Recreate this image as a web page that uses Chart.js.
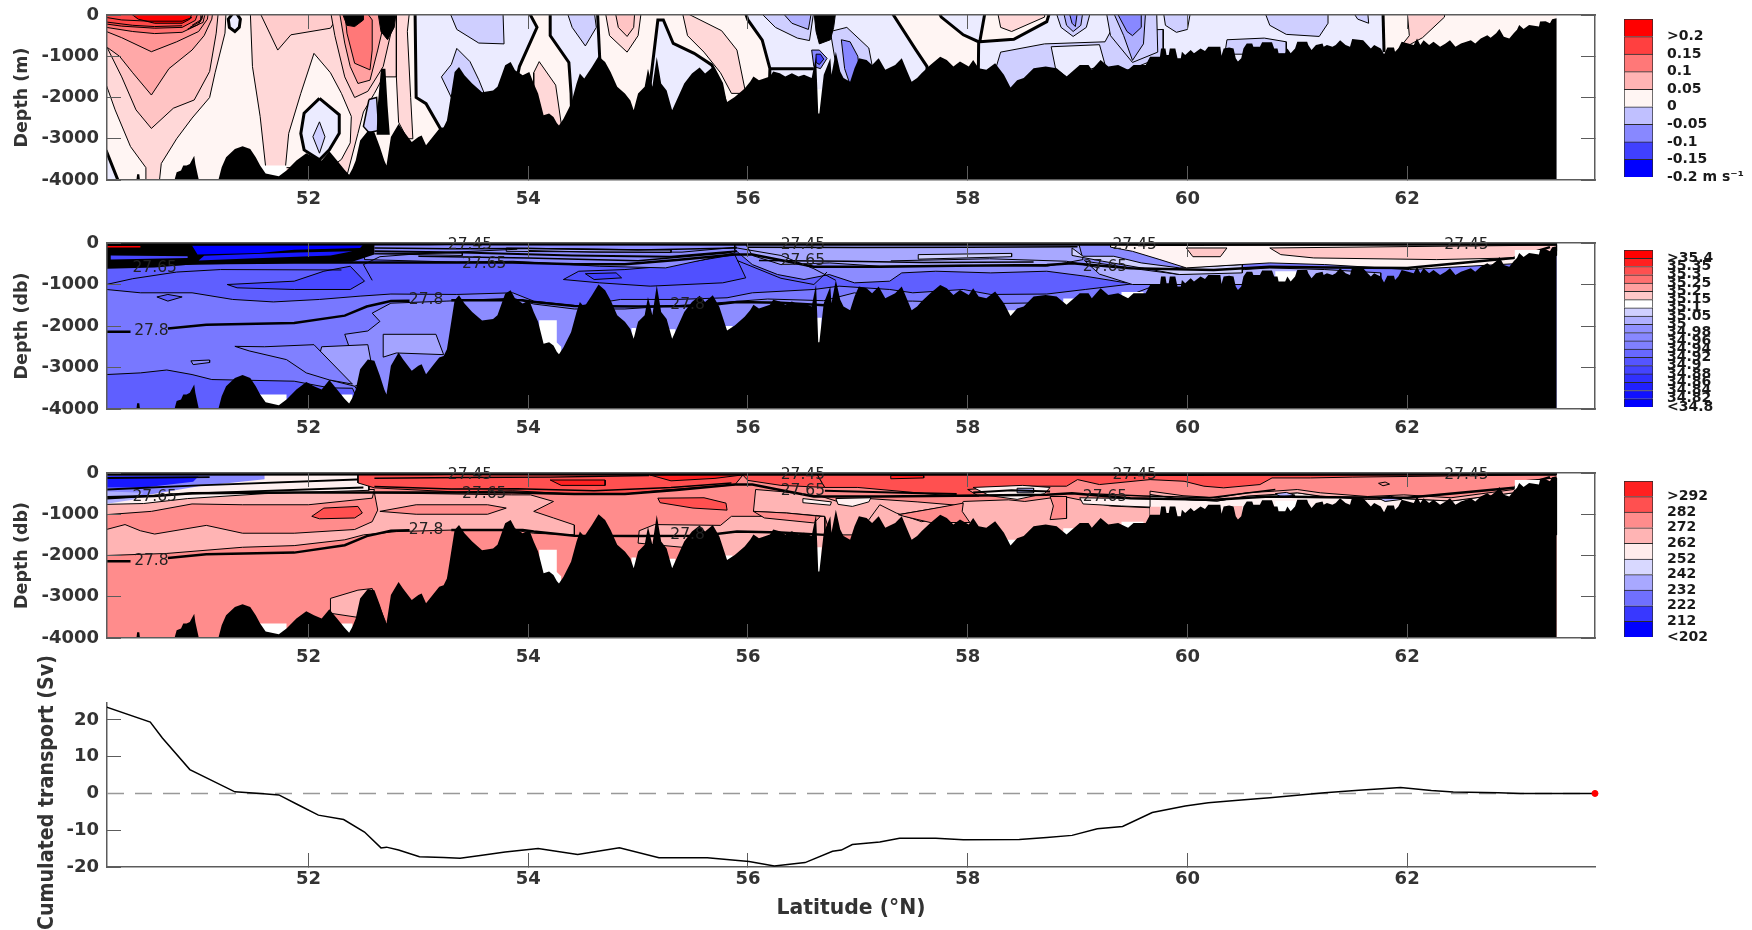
<!DOCTYPE html>
<html>
<head>
<meta charset="utf-8">
<title>Section</title>
<script src="https://cdn.jsdelivr.net/npm/chart.js@4"></script>
<style>
body { margin: 0; background: #fff; }
canvas { position: absolute; }
</style>
</head>
<body>
<canvas id="panelVel" style="left:0px;top:0px" width="1610" height="215"></canvas>
<canvas id="panelSal" style="left:0px;top:225px" width="1610" height="215"></canvas>
<canvas id="panelDen" style="left:0px;top:455px" width="1610" height="215"></canvas>
<canvas id="panelTrans" style="left:0px;top:655px" width="1610" height="275"></canvas>
<canvas id="barVel" style="left:1600px;top:5px" width="152" height="190"></canvas>
<canvas id="barSal" style="left:1600px;top:235px" width="152" height="190"></canvas>
<canvas id="barDen" style="left:1600px;top:465px" width="152" height="190"></canvas>
<script>
const xTicks = [52, 54, 56, 58, 60, 62];
const depthTicks = [0, -1000, -2000, -3000, -4000];
const transTicks = [-20, -10, 0, 10, 20];

// colour bars, top to bottom
const velColors = ['#ff0000', '#ff4040', '#ff7878', '#ffb4b4', '#fff5f3', '#c0c0ff', '#8888ff', '#4040ff', '#0000ff'];
const velLabels = ['>0.2', '0.15', '0.1', '0.05', '0', '-0.05', '-0.1', '-0.15', '-0.2 m s\u207B\u00B9'];
const salColors = ['#ff0000', '#ff2020', '#ff5050', '#ff7070', '#ffa0a0', '#ffc8c8', '#ffffff', '#d0d0ff', '#b0b0ff', '#9090ff', '#8888ff', '#8080ff', '#6868ff', '#5555ff', '#4444ff', '#3030ff', '#2020ff', '#1010ff', '#0000ff'];
const salLabels = ['>35.4', '35.35', '35.3', '35.25', '35.2', '35.15', '35.1', '35.05', '35', '34.98', '34.96', '34.94', '34.92', '34.9', '34.88', '34.86', '34.84', '34.82', '<34.8'];
const denColors = ['#ff2020', '#ff5050', '#ff8c8c', '#ffb4b4', '#ffecec', '#d8d8ff', '#a8a8ff', '#7070ff', '#3838ff', '#0000ff'];
const denLabels = ['>292', '282', '272', '262', '252', '242', '232', '222', '212', '<202'];

// cumulated transport (lat, Sv)
const transLat = [50.16, 50.56, 50.67, 50.92, 51.33, 51.59, 51.73, 51.9, 52.09, 52.32, 52.51, 52.66, 52.71, 52.82, 53.01, 53.23, 53.38, 53.58, 53.79, 54.09, 54.45, 54.83, 55.19, 55.63, 56.01, 56.24, 56.52, 56.77, 56.85, 56.95, 57.2, 57.38, 57.71, 57.96, 58.47, 58.72, 58.95, 59.18, 59.41, 59.68, 59.98, 60.19, 60.49, 60.75, 61.25, 61.56, 61.94, 62.22, 62.42, 62.83, 63.03, 63.71];
const transSv = [23.5, 19.4, 15.1, 6.5, 0.45, -0.1, -0.4, -3, -5.9, -7.1, -10.5, -14.8, -14.6, -15.4, -17.2, -17.4, -17.6, -16.8, -15.9, -15, -16.6, -14.8, -17.5, -17.5, -18.5, -19.7, -18.8, -15.7, -15.4, -13.9, -13.2, -12.2, -12.2, -12.6, -12.5, -12, -11.4, -9.6, -9, -5.2, -3.4, -2.5, -1.8, -1.2, 0.2, 0.9, 1.6, 0.8, 0.4, 0.2, 0, 0];

// sea floor shared by the three sections (lat, depth)
const bathy = [[50, -4100], [50.43, -4100], [50.44, -3860], [50.46, -3860], [50.47, -4100], [50.77, -4100], [50.8, -3810], [50.84, -3770], [50.86, -3650], [50.89, -3650], [50.92, -3610], [50.96, -3410], [50.97, -3610], [51.01, -4100], [51.17, -4100], [51.21, -3690], [51.25, -3450], [51.33, -3250], [51.4, -3180], [51.47, -3250], [51.52, -3450], [51.56, -3650], [51.61, -3840], [51.73, -3910], [51.8, -3770], [51.89, -3530], [51.98, -3350], [52.05, -3450], [52.12, -3530], [52.19, -3300], [52.26, -3530], [52.33, -3760], [52.37, -3870], [52.4, -3730], [52.43, -3530], [52.47, -3040], [52.54, -2810], [52.6, -2840], [52.65, -3200], [52.69, -3530], [52.71, -3650], [52.75, -2960], [52.82, -2640], [52.86, -2800], [52.94, -3080], [53, -2960], [53.03, -2920], [53.07, -3160], [53.13, -2960], [53.19, -2760], [53.23, -2720], [53.26, -2560], [53.28, -2230], [53.33, -1380], [53.37, -1260], [53.42, -1460], [53.49, -1660], [53.58, -1870], [53.68, -1830], [53.72, -1740], [53.79, -1220], [53.84, -1140], [53.88, -1340], [53.95, -1460], [54.01, -1380], [54.05, -1660], [54.09, -1900], [54.14, -2430], [54.19, -2390], [54.23, -2470], [54.26, -2620], [54.28, -2680], [54.32, -2520], [54.39, -2150], [54.44, -1660], [54.47, -1420], [54.51, -1540], [54.58, -1260], [54.64, -1000], [54.7, -1140], [54.75, -1380], [54.81, -1740], [54.88, -1900], [54.93, -2070], [54.96, -2310], [55, -1900], [55.06, -1740], [55.09, -1300], [55.13, -1740], [55.17, -1020], [55.21, -1660], [55.26, -1830], [55.31, -2310], [55.35, -2070], [55.42, -1660], [55.49, -1420], [55.56, -1270], [55.61, -1420], [55.68, -1260], [55.74, -1540], [55.81, -2110], [55.88, -1990], [55.97, -1780], [56.02, -1620], [56.05, -1490], [56.1, -1580], [56.2, -1490], [56.23, -1370], [56.29, -1410], [56.34, -1490], [56.4, -1410], [56.46, -1490], [56.51, -1450], [56.58, -1530], [56.62, -1000], [56.64, -2390], [56.65, -2390], [56.69, -1450], [56.75, -1050], [56.76, -1450], [56.8, -890], [56.84, -1370], [56.87, -1530], [56.93, -1620], [56.97, -1290], [57.01, -1050], [57.08, -1090], [57.13, -1210], [57.19, -1050], [57.25, -1330], [57.34, -1210], [57.4, -1050], [57.45, -1370], [57.49, -1620], [57.54, -1530], [57.58, -1410], [57.66, -1210], [57.75, -1010], [57.81, -1090], [57.87, -1250], [57.93, -1130], [58.01, -1250], [58.05, -1090], [58.1, -1290], [58.17, -1330], [58.25, -1170], [58.33, -1450], [58.39, -1760], [58.45, -1580], [58.51, -1530], [58.6, -1290], [58.71, -1250], [58.81, -1290], [58.9, -1490], [59.02, -1210], [59.1, -1210], [59.13, -1330], [59.21, -1090], [59.28, -1250], [59.37, -1210], [59.46, -1330], [59.51, -1210], [59.62, -1210], [59.66, -1010], [59.75, -1010], [59.76, -810], [59.8, -810], [59.81, -970], [59.83, -970], [59.84, -810], [59.89, -810], [59.91, -1050], [59.94, -1050], [59.95, -890], [59.98, -970], [60.03, -850], [60.06, -930], [60.12, -810], [60.16, -870], [60.19, -770], [60.3, -770], [60.31, -990], [60.33, -810], [60.38, -790], [60.42, -810], [60.44, -1050], [60.46, -1130], [60.49, -1050], [60.51, -810], [60.54, -690], [60.59, -690], [60.6, -770], [60.66, -770], [60.68, -660], [60.77, -660], [60.79, -810], [60.82, -810], [60.83, -930], [60.89, -930], [60.91, -810], [60.94, -930], [60.98, -810], [61, -650], [61.09, -650], [61.1, -730], [61.13, -850], [61.17, -730], [61.23, -690], [61.24, -770], [61.27, -730], [61.32, -770], [61.35, -730], [61.39, -610], [61.44, -730], [61.48, -770], [61.5, -580], [61.6, -610], [61.64, -730], [61.67, -810], [61.7, -730], [61.73, -770], [61.76, -810], [61.79, -950], [61.82, -790], [61.88, -790], [61.89, -890], [61.92, -810], [61.95, -650], [62.06, -730], [62.09, -570], [62.12, -730], [62.15, -610], [62.2, -730], [62.24, -650], [62.3, -770], [62.35, -690], [62.39, -610], [62.44, -770], [62.49, -690], [62.58, -610], [62.62, -690], [62.67, -570], [62.73, -490], [62.76, -550], [62.81, -440], [62.84, -340], [62.88, -530], [62.93, -570], [62.97, -440], [63, -360], [63.02, -240], [63.06, -340], [63.11, -240], [63.2, -280], [63.21, -160], [63.26, -150], [63.3, -200], [63.32, -100], [63.36, -80], [63.36, -4100]];

// places where the section has no data
const holeDeep = [[51.47, -3650], [51.8, -3650], [51.8, -4100], [51.47, -4100]];
const holeSlit = [[56.63, -1800], [56.67, -1800], [56.67, -2450], [56.63, -2450]];
const holeBox = [[54.1, -1860], [54.26, -1860], [54.26, -2400], [54.3, -2500], [54.3, -2750], [54.1, -2750]];
const holeA = [[52.3, -3650], [52.4, -3650], [52.4, -3950], [52.3, -3950]];
const holeB = [[54.94, -2050], [54.98, -2050], [54.98, -2350], [54.94, -2350]];
const holeC = [[55.28, -2080], [55.34, -2080], [55.34, -2350], [55.28, -2350]];
const holeD = [[55.78, -2000], [55.86, -2000], [55.86, -2200], [55.78, -2200]];
const holeE = [[58.33, -1620], [58.46, -1620], [58.46, -1800], [58.33, -1800]];
const holeF = [[58.87, -1340], [59, -1340], [59, -1560], [58.87, -1560]];
const holeG = [[59.4, -1180], [59.6, -1180], [59.6, -1350], [59.4, -1350]];
const holeH = [[60.8, -680], [60.99, -680], [60.99, -1000], [60.8, -1000]];
const holeI = [[62.98, -170], [63.25, -170], [63.25, -420], [62.98, -420]];
const holesAll = [holeDeep, holeSlit];
const holesTS = [holeDeep, holeSlit, holeBox, holeA, holeB, holeC, holeD, holeE, holeF, holeG, holeH, holeI];

// density contours drawn on salinity and density sections
const sigma2745 = [[50.16, -30], [53.1, -25], [53.3, -20], [53.7, -25], [56.3, -30], [56.7, -30], [59.3, -30], [59.8, -35], [62.3, -30], [62.8, -30], [63.36, -30]];
const sigma2765 = [[50.16, -590], [50.6, -560], [50.94, -490], [51.87, -470], [52.53, -470], [53.35, -470], [53.86, -470], [54.42, -510], [54.88, -510], [55.35, -410], [55.88, -280], [56.04, -280], [56.27, -400], [56.6, -570], [57.2, -570], [57.9, -550], [58.72, -530], [58.95, -490], [59.48, -610], [60.24, -650], [60.75, -570], [61.3, -590], [62, -600], [62.97, -360], [63.3, -100]];
const sigma278 = [[50.16, -2140], [50.38, -2140], [null, null], [50.72, -2060], [51.07, -1970], [51.87, -1930], [52.33, -1750], [52.53, -1530], [52.75, -1400], [52.92, -1390], [null, null], [53.3, -1380], [53.95, -1380], [54.05, -1420], [54.42, -1520], [55, -1530], [55.58, -1520], [55.9, -1420], [56.3, -1440], [56.7, -1500]];
const labelText = ['27.45', '27.45', '27.45', '27.45', '27.65', '27.65', '27.65', '27.65', '27.8', '27.8', '27.8'];
const labelLat = [53.47, 56.5, 59.52, 62.54, 50.6, 53.6, 56.5, 59.25, 50.57, 53.07, 55.45];
const labelDepth = [-45, -45, -45, -45, -590, -500, -440, -570, -2130, -1370, -1500];

// along-section velocity
const vBase = [[50, 100], [63.36, 100], [63.36, -4100], [50, -4100]];
const vPale = [[50, 100], [52.97, 100], [52.98, -2000], [53.07, -2150], [53.2, -2750], [53.3, -3000], [53.3, -4100], [50.28, -4100], [50.22, -3700], [50.16, -3300], [50, -3200]];
const vEyeTop = [[51.33, 100], [51.38, -100], [51.37, -300], [51.33, -400], [51.28, -300], [51.27, -100]];
const vEye = [[52.1, -2020], [52.28, -2420], [52.28, -2870], [52.19, -3270], [52.1, -3510], [51.96, -3270], [51.93, -2870], [51.96, -2380]];
const vEyeIn = [[52.1, -2590], [52.15, -2950], [52.1, -3350], [52.04, -2950]];
const vPink1 = [[50, 100], [51.25, 100], [51.24, -440], [51.15, -1400], [51.1, -2000], [50.94, -2500], [50.8, -3000], [50.66, -3600], [50.64, -4100], [50.52, -4100], [50.52, -3700], [50.38, -3190], [50.24, -2300], [50.16, -1700], [50, -1500]];
const vPink2 = [[50, -500], [50.16, -750], [50.3, -1500], [50.43, -2300], [50.57, -2750], [50.77, -2260], [50.96, -2060], [51.1, -1370], [51.16, -440], [51.18, 100], [50, 100]];
const vPink3 = [[50, -600], [50.16, -770], [50.28, -1000], [50.4, -1400], [50.57, -1940], [50.73, -1300], [50.94, -850], [51.05, -500], [51.12, -100], [51.13, 100], [50, 100]];
const vPink4 = [[50, -350], [50.16, -400], [50.3, -550], [50.57, -890], [50.8, -650], [51, -400], [51.08, -100], [51.09, 100], [50, 100]];
const vPink5 = [[50, -250], [50.16, -300], [50.4, -400], [50.6, -450], [50.85, -420], [51, -230], [51.05, 100], [50, 100]];
const vPink6 = [[50, -160], [50.3, -270], [50.6, -320], [50.85, -300], [50.97, -130], [51, 100], [50, 100]];
const vRed = [[50.35, 100], [50.45, -100], [50.6, -200], [50.85, -200], [50.92, -100], [50.95, 100]];
const vLine1 = [[50.16, -60], [50.3, -120], [50.55, -150], [50.85, -150], [50.94, -60]];
const vLine2 = [[50.94, -250], [51.03, -100], [51.04, 50]];
const vLine3 = [[50.92, -300], [51.02, -150], [51.02, 50]];
const vLine4 = [[50.9, -340], [51.04, -180], [51.06, 50]];
const vLine5 = [[50.16, -170], [50.4, -250], [50.6, -280], [50.85, -260]];
const vMid = [[51.47, 100], [51.49, -1250], [51.56, -2460], [51.61, -3680], [51.62, -4100], [52.33, -4100], [52.45, -2870], [52.5, -2350], [52.6, -1900], [52.68, -1500], [52.8, -1500], [52.9, 100]];
const vRing = [[52.05, -930], [51.93, -1900], [51.82, -2870], [51.79, -3700], [52.2, -3700], [52.3, -3500], [52.38, -3100], [52.39, -2460], [52.3, -1900], [52.2, -1400]];
const vWedge = [[51.55, 100], [51.72, -850], [51.84, -480], [52.2, -320], [52.3, 100]];
const vMidA = [[52.2, 100], [52.24, -500], [52.33, -1500], [52.42, -2000], [52.54, -1850], [52.68, -1250], [52.75, -440], [52.75, 100]];
const vMidB = [[52.28, 100], [52.33, -680], [52.38, -1250], [52.45, -1660], [52.56, -1580], [52.63, -850], [52.68, -280], [52.68, 100]];
const vMidC = [[52.33, 100], [52.35, -440], [52.42, -1170], [52.56, -1330], [52.58, -850], [52.58, -120], [52.52, 100]];
const vDarkA = [[52.3, 100], [52.35, -250], [52.42, -280], [52.5, -120], [52.5, 100]];
const vDarkB = [[52.63, 100], [52.66, -400], [52.72, -600], [52.78, -300], [52.8, 100]];
const vDarkD = [[52.66, -1300], [52.7, -1300], [52.72, -2200], [52.74, -2900], [52.62, -2900], [52.63, -2200]];
const vColumn = [[52.8, 100], [52.8, -1500], [52.82, -2600], [52.9, -3000], [52.95, -3000], [52.93, -2000], [52.9, -400], [52.92, 100]];
const vBlueW = [[52.55, -2050], [52.62, -2000], [52.64, -2800], [52.55, -2850], [52.5, -2700]];
const vBlueA = [[53.28, 100], [53.35, -350], [53.55, -680], [53.78, -700], [53.77, 100]];
const vBlueB = [[53.35, -810], [53.47, -1130], [53.55, -1570], [53.6, -1900], [53.3, -2000], [53.21, -1500], [53.3, -1200]];
const vPaleB = [[54, 100], [54.08, -300], [53.92, -1250], [53.9, -1500], [54, -3000], [54.4, -3000], [54.39, -1900], [54.37, -1150], [54.2, -500], [54.2, 100]];
const vPinkB = [[54.1, -1130], [54.05, -1400], [54.05, -3000], [54.32, -3000], [54.25, -1700]];
const vBlueC = [[54.35, 100], [54.4, -300], [54.52, -750], [54.62, -300], [54.6, 100]];
const vPaleC = [[54.63, 100], [54.65, -1000], [54.7, -3000], [55.05, -3000], [55.18, -120], [55.23, -120], [55.32, -690], [55.51, -930], [55.67, -1210], [55.76, -1660], [55.86, -3000], [56.18, -3000], [56.2, -1300], [56.13, -610], [56, -120], [55.97, 100]];
const vPinkC = [[54.7, 100], [54.74, -500], [54.9, -900], [55, -500], [55.03, 100]];
const vPinkD = [[54.79, 100], [54.82, -300], [54.9, -520], [54.96, -300], [54.97, 100]];
const vPinkE = [[55.4, 100], [55.76, -380], [55.9, -850], [55.98, -1900], [55.85, -1900], [55.75, -1400], [55.6, -900], [55.45, -500]];
const vBlueD = [[56.1, 100], [56.25, -300], [56.45, -560], [56.56, -620], [56.6, 100]];
const vBlueE = [[56.3, 100], [56.4, -200], [56.55, -350], [56.58, 100]];
const vThickH = [[56.2, -1300], [56.6, -1300]];
const vBlueF = [[56.75, -400], [56.9, -300], [57.1, -800], [57.15, -1500], [56.9, -2000], [56.8, -1200]];
const vBlueG = [[56.85, -600], [56.93, -650], [57, -1000], [57.02, -1500], [56.95, -1850], [56.88, -1300]];
const vDarkC = [[56.6, 100], [56.62, -400], [56.65, -700], [56.75, -600], [56.78, -300], [56.8, 100]];
const vRings = [[56.58, -850], [56.65, -850], [56.72, -1050], [56.66, -1300], [56.6, -1250]];
const vRings2 = [[56.62, -950], [56.66, -950], [56.69, -1070], [56.65, -1200], [56.62, -1150]];
const vPaleD = [[57.3, 100], [57.53, -850], [57.63, -1250], [57.63, -3000], [58.09, -3000], [58.1, -650], [57.96, -480], [57.76, -50], [57.73, 100]];
const vPaleE = [[58.11, -650], [58.42, -590], [58.72, -160], [58.75, 100], [58.16, 100]];
const vPinkF = [[58.27, 100], [58.3, -300], [58.4, -400], [58.7, -50], [58.7, 100]];
const vBlueH = [[58.2, -1800], [58.3, -900], [58.7, -700], [59.25, -650], [59.3, -400], [59.78, -350], [59.78, -1000], [59.5, -1300], [58.5, -2000]];
const vPaleF = [[58.76, -770], [59.2, -720], [59.25, -1200], [58.9, -1500], [58.8, -1300]];
const vVortA = [[58.8, 100], [58.85, -300], [58.96, -520], [59.08, -300], [59.12, 100]];
const vVortB = [[58.87, 100], [58.9, -250], [58.96, -400], [59.03, -250], [59.05, 100]];
const vVortC = [[58.92, 100], [58.95, -200], [58.98, -280], [59, 100]];
const vBlueI = [[59.26, 100], [59.3, -500], [59.5, -1150], [59.73, -900], [59.72, 100]];
const vBlueJ = [[59.32, 100], [59.42, -500], [59.5, -1100], [59.6, -700], [59.62, 100]];
const vBlueK = [[59.35, 100], [59.45, -400], [59.5, -500], [59.58, -300], [59.58, 100]];
const vBlueL = [[59.78, 100], [59.8, -250], [59.9, -420], [60, -350], [60.03, 100]];
const vBlueM = [[60.7, 100], [60.75, -250], [60.9, -470], [61.2, -520], [61.28, -200], [61.28, 100]];
const vBlueN = [[60.34, -950], [60.36, -600], [60.7, -560], [60.9, -650], [60.9, -950]];
const vLoop = [[61.5, 100], [61.55, -100], [61.65, -200], [61.64, 100]];
const vPaleG = [[61.78, 100], [61.79, -900], [61.79, -1500], [63.36, -1500], [63.36, 100]];
const vPaleGEdge = [[61.78, 100], [61.79, -900]];
const vPinkG = [[62, 100], [62.02, -500], [61.9, -900], [62.14, -550], [62.34, -50], [62.34, 100]];

// salinity
const sBase = [[50, 100], [63.36, 100], [63.36, -4100], [50, -4100]];
const sMid = [[50, 100], [60.3, 100], [60.1, -640], [59.78, -760], [59.58, -960], [59.07, -1120], [58.72, -1230], [58.21, -1240], [57.96, -1120], [57.5, -1200], [57.29, -1120], [56.83, -1040], [56.6, -1120], [56.04, -1200], [55.81, -1320], [55.35, -1360], [54.84, -1360], [54.46, -1520], [54.05, -1400], [53.86, -1200], [53.35, -1240], [52.75, -1230], [52.47, -1280], [52.1, -1360], [51.68, -1420], [51.31, -1360], [50.94, -1200], [50.47, -1200], [50.16, -1120], [50, -1120]];
const sDeep = [[50, -3170], [50.16, -3170], [50.47, -3130], [50.71, -3060], [50.94, -3170], [51.12, -3290], [51.87, -3330], [52.19, -3490], [52.4, -3500], [52.5, -4100], [50, -4100]];
const sLightA = [[52.58, -1690], [52.75, -1450], [53.26, -1400], [53.86, -1330], [54.05, -1470], [54.42, -1590], [54.88, -1590], [55.58, -1470], [56.18, -1350], [56.69, -1390], [56.97, -1200], [57.29, -1400], [57.5, -1400], [58.21, -1460], [58.97, -1430], [59.48, -1250], [59.73, -1000], [60.24, -700], [60.3, -4100], [52.6, -4100], [52.4, -3380], [52.17, -3170], [52.07, -2850], [52.14, -2500], [52.38, -2580], [52.33, -2200], [52.54, -2120], [52.65, -1890]];
const sLightB = [[52.68, -2200], [53.16, -2200], [53.23, -2690], [52.8, -2650], [52.68, -2750]];
const sLightC = [[52.12, -2500], [52.54, -2450], [52.6, -3300], [52.42, -3450], [52.19, -3300], [52.07, -3000]];
const sTongue = [[51.33, -2490], [51.6, -2500], [52.05, -2450], [52.4, -3400], [52.19, -3300], [51.98, -3130], [51.8, -2810], [51.46, -2600]];
const sSmall = [[50.93, -2840], [51.1, -2820], [51.1, -2880], [50.95, -2930]];
const sOval = [[50.62, -1300], [50.72, -1240], [50.85, -1300], [50.72, -1400]];
const sDeepW = [[51.26, -1000], [51.87, -920], [52.14, -680], [52.38, -560], [52.51, -920], [52.38, -1120], [51.87, -1120], [51.35, -1080]];
const sDeepE = [[54.32, -880], [54.46, -680], [54.88, -640], [55.25, -560], [55.88, -280], [55.98, -840], [55.77, -960], [55.11, -1040], [54.65, -960]];
const sDeepF = [[54.52, -740], [54.8, -720], [54.85, -840], [54.6, -880]];
const sBand8 = [[52.5, 100], [52.51, -400], [53.35, -460], [53.86, -440], [54.65, -560], [55.25, -600], [55.88, -240], [55.88, 100]];
const sUp8 = [[55.88, -160], [56.04, -520], [56.27, -760], [56.51, -880], [56.74, -760], [56.97, -960], [57.29, -920], [57.4, -720], [57.71, -680], [58.21, -720], [58.72, -680], [59.07, -800], [59.44, -960], [59.73, -800], [60.19, -760], [60.44, -560], [60.44, 100], [55.88, 100]];
const sUpA = [[55.95, 100], [59, 100], [59.05, -400], [58.72, -560], [57.96, -540], [57.2, -560], [56.74, -480], [56.3, -520], [56.04, -300]];
const sUpStripe = [[57.55, -280], [58.4, -250], [58.4, -330], [57.55, -390]];
const sUpStripe2 = [[53.8, -120], [55.3, -170], [55.3, -230], [53.8, -200]];
const sUpB = [[59.07, -440], [59.58, -640], [59.93, -760], [60.52, -640], [60.75, -600], [61.25, -640], [61.76, -720], [61.76, -1000], [60, -1000], [59.5, -1000], [59.2, -750]];
const sUpC = [[58.95, -120], [59.05, -320], [59.33, -320], [59.58, -480], [59.93, -600], [60.5, -520], [60.5, -720], [59.93, -760], [59.58, -600], [59.23, -440], [58.95, -300]];
const sWhite = [[59.3, 100], [63.36, 100], [63.36, -300], [62.97, -500], [62.02, -640], [61.25, -520], [60.75, -480], [60.49, -520], [59.99, -600], [59.75, -400], [59.5, -200], [59.3, -100]];
const sPinkA = [[60.75, -120], [63.36, -50], [63.36, -200], [62.97, -360], [62.27, -400], [61.15, -360], [60.85, -280]];
const sPinkB = [[59.99, -120], [60.36, -120], [60.3, -330], [60.05, -330]];
const sTopDark = [[50, 100], [52.6, 100], [52.6, -280], [52.4, -450], [51, -520], [50, -620]];
const sTopBlue = [[50.94, -60], [52.5, -30], [52.47, -120], [51.87, -160], [51.55, -240], [50.99, -280]];
const sTopBlue2 = [[51.05, -310], [51.9, -230], [52.4, -200], [52.2, -300], [51.4, -380], [51, -420]];
const sTopStripe = [[50.2, -300], [50.9, -320], [50.9, -360], [50.2, -400]];
const sTopRed = [[50.17, -88], [50.47, -88]];
const sStripeA = [[52.6, -260], [53.4, -240], [53.4, -300]];
const sLine1 = [[50.16, -1000], [50.4, -860], [50.8, -700], [51.2, -640], [52.3, -650]];
const sLine2 = [[52.58, -900], [52.5, -520], [52.65, -330], [53, -260], [53.9, -150]];
const sLine3 = [[54, -180], [54.6, -220], [55.4, -220], [55.9, -100]];
const sLine4 = [[55.9, -120], [56.3, -300], [56.6, -620], [56.8, -900]];
const sLine5 = [[55.9, -420], [56.3, -850], [56.6, -1000], [56.72, -700]];
const sLine6 = [[57.3, -430], [58.2, -380], [58.9, -440], [59.2, -600]];
const sStripeB = [[52.6, -120], [53.3, -140], [54, -130], [55, -170], [55.9, -120]];
const sStripeC = [[52.6, -200], [53.4, -230], [54.4, -300], [55.3, -330], [55.9, -200]];
const sStripeD = [[53, -320], [54, -360], [55, -430], [55.85, -230]];
const sStripeE = [[56, -100], [57, -110], [58, -100], [59, -90]];
const sStripeF = [[56.1, -420], [56.9, -440], [57.6, -470], [58.6, -460]];

// potential density section
const dBase = [[50, 100], [63.36, 100], [63.36, -4100], [50, -4100]];
const dBandLow = [[50, -1350], [50.16, -1370], [50.33, -1250], [50.47, -1400], [50.6, -1480], [51.07, -1270], [51.4, -1460], [51.87, -1460], [52.42, -1370], [52.58, -1180], [52.63, -900], [52.6, -480], [53.85, -530], [54.02, -530], [54.23, -690], [54.05, -930], [54.23, -1090], [54.42, -1260], [54.42, -1500], [54.05, -1460], [53.86, -1380], [53.35, -1380], [52.8, -1420], [52.5, -1500], [52.33, -1620], [51.87, -1760], [51.4, -1800], [50.71, -1950], [50.16, -2000], [50, -2020]];
const dPatchMid = [[52.65, -930], [52.98, -770], [53.63, -770], [53.8, -850], [53.63, -1000], [52.98, -1000]];
const dPatchRed = [[52.03, -1050], [52.14, -850], [52.45, -810], [52.49, -970], [52.42, -1090], [52.1, -1110]];
const dBandUp = [[50, -400], [52.6, -400], [52.58, -610], [52, -770], [51.4, -770], [50.94, -750], [50.57, -930], [50.16, -1010], [50, -1010]];
const dWestWhite = [[50, 100], [52.55, 100], [52.55, -420], [51.6, -500], [50.9, -620], [50.5, -740], [50.16, -760], [50, -760]];
const dWestBlue = [[50, 100], [51.6, 100], [51.6, -150], [51, -320], [50.6, -500], [50.16, -700], [50, -700]];
const dWestDeep = [[50, -80], [51, -80], [50.95, -210], [50.5, -350], [50.16, -350], [50, -350]];
const dWestPale = [[50.16, -450], [50.5, -480], [50.4, -650], [50.16, -750]];
const dWestA = [[50.16, -120], [51.1, -100]];
const dWestB = [[50.16, -400], [51, -300], [52.5, -150]];
const dWestC = [[50.16, -620], [50.9, -500], [52.5, -350]];
const dTopRed = [[52.45, 100], [52.45, -240], [52.6, -360], [53.35, -460], [53.86, -430], [54.42, -510], [54.88, -510], [55.25, -410], [55.88, -290], [56, 100]];
const dRedA = [[54.2, -170], [54.7, -170], [54.7, -300], [54.3, -300]];
const dRedB = [[55.11, -50], [56, -30], [55.7, -130], [55.3, -190]];
const dRedC = [[55.18, -610], [55.6, -600], [55.8, -730], [55.81, -900], [55.5, -850], [55.2, -720]];
const dMidLoop = [[55.01, -1400], [55.15, -1250], [55.75, -1270], [55.85, -1050], [56.2, -1050], [56.7, -1050], [56.7, -1500], [56.7, -2500], [55.8, -2500], [55.75, -2000], [55.4, -1800], [55, -1700]];
const dEastUp = [[56.07, -400], [56.3, -450], [56.66, -560], [56.85, -720], [57.1, -620], [57.54, -700], [57.9, -780], [57.63, -890], [57.37, -1010], [57.45, -1500], [56.75, -1500], [56.7, -1050], [56.35, -970], [56.05, -930]];
const dEastDark = [[56.05, -930], [56.35, -970], [56.66, -1050], [56.6, -1210], [56.15, -1090]];
const dEastWhiteA = [[56.5, -620], [56.76, -700], [56.75, -780], [56.5, -720]];
const dEastWhiteB = [[56.8, -620], [57.12, -600], [57.1, -700], [56.95, -810], [56.82, -760]];
const dTopRed2 = [[56.6, 100], [56.7, -350], [57, -350], [57.54, -480], [57.9, -570], [58.1, -560], [58, -400], [58.2, -360], [58.45, -320], [58.9, -320], [59, -160], [59.2, -280], [59.66, -160], [59.97, -200], [60.15, -320], [60.33, -360], [60.66, -280], [60.77, -120], [61.12, -120], [61.5, -100], [63.36, -40], [63.36, 100]];
const dTopRed3 = [[55.9, 100], [56.6, 100], [56.7, -350], [56.3, -300], [56, -180]];
const dRedD = [[57.3, -60], [57.6, -60], [57.6, -120], [57.3, -140]];
const dEastBand = [[57.2, -770], [57.35, -970], [57.58, -1180], [57.9, -1020], [57.96, -690], [58.37, -650], [58.52, -690], [58.74, -610], [58.87, -570], [59.3, -800], [59.73, -850], [60.4, -800], [60.4, -2500], [57, -2500], [57, -1500]];
const dEastPatch = [[57.37, -1010], [57.63, -890], [57.96, -730], [57.95, -930], [58.02, -1200], [57.66, -1200], [57.42, -1050]];
const dEastPale = [[59.02, -600], [59.5, -620], [59.99, -650], [60.2, -780], [59.9, -850], [59.4, -800], [59.05, -750]];
const dEastLoop = [[58.75, -570], [58.9, -570], [58.9, -1100], [58.75, -1130], [58.78, -800]];
const dCyclone = [[58.05, -350], [58.5, -300], [58.75, -350], [58.7, -500], [58.45, -640], [58.2, -550]];
const dCycloneIn = [[58.45, -370], [58.6, -370], [58.6, -480], [58.45, -480]];
const dFarPink = [[59.66, -440], [59.96, -550], [60.27, -600], [60.54, -480], [60.79, -440], [61, -400], [61.21, -480], [61.64, -570], [61.97, -530], [62.4, -600], [62.97, -400], [63, -200], [63.36, -120], [63.36, -200], [63, -300], [62.97, -480], [62.4, -680], [61.97, -620], [61.64, -640], [61.21, -560], [61, -480], [60.79, -520], [60.54, -560], [60.27, -680], [59.96, -640], [59.66, -520]];
const dFarPale = [[59.66, -520], [59.96, -640], [60.27, -680], [60.54, -560], [60.79, -520], [61, -480], [61.21, -560], [61.64, -640], [61.97, -620], [62.4, -680], [62.97, -480], [63, -300], [63.36, -200], [63.36, -1500], [59.66, -1500]];
const dFarSpike = [[60.42, -800], [60.5, -800], [60.5, -1200], [60.42, -1200]];
const dFarLeft = [[59.66, -820], [59.75, -820], [59.75, -1100], [59.66, -1100]];
const dOvalA = [[60.8, -500], [60.9, -470], [60.98, -540], [60.85, -580]];
const dOvalB = [[61.73, -600], [61.85, -565], [61.95, -640], [61.8, -690]];
const dLoopA = [[61.74, -250], [61.8, -220], [61.84, -270], [61.78, -310]];
const dLowPatch = [[52.2, -3040], [52.45, -2840], [52.58, -2800], [52.7, -3600], [52.45, -3500], [52.2, -3400]];
const dStripeA = [[52.6, -130], [53.4, -110], [54.2, -100], [55.1, -60]];
const dStripeB = [[52.6, -330], [53.3, -390], [53.9, -380], [54.6, -430], [55.3, -350], [55.85, -240]];
const dStripeC = [[56.7, -430], [57.4, -480], [57.9, -510]];
const dStripeD = [[58.05, -470], [58.4, -420], [58.75, -450]];
const dStripeE = [[59.1, -500], [59.6, -560], [60.2, -600], [60.8, -400]];

const axisColor = '#5c5c5c';
const textColor = '#333';
const tickFont = { family: 'DejaVu Sans', weight: 'bold', size: 18 };
const depthTitleFont = { family: 'DejaVu Sans', weight: 'bold', size: 17.5 };
const bigTitleFont = { family: 'DejaVu Sans', weight: 'bold', size: 20.4 };

function toPoints(pts) {
    return pts.map(p => ({ x: p[0], y: p[1] }));
}

function area(pts, color, width = 1) {
    return {
        data: toPoints(pts.concat([pts[0]])),
        fill: 'shape',
        backgroundColor: color,
        borderColor: width ? '#000' : color,
        borderWidth: width,
        pointRadius: 0,
        tension: 0,
        clip: 0,
    };
}

function line(pts, width = 1) {
    return {
        data: toPoints(pts),
        fill: false,
        borderColor: '#000',
        borderWidth: width,
        pointRadius: 0,
        tension: 0,
        clip: 0,
    };
}

function sectionEnd(holes) {
    const list = holes.map(h => area(h, '#fff', 0));
    list.push(area(bathy, '#000', 0));
    return list;
}

// tick padding would otherwise leak into the layout and shift the plot area
function noPadding(s) {
    s.paddingTop = 0;
    s.paddingBottom = 0;
    s.paddingLeft = 0;
    s.paddingRight = 0;
}

function mirrorX(position) {
    return {
        type: 'linear', position: position, min: 50.166, max: 63.71,
        afterBuildTicks: s => { s.ticks = xTicks.map(v => ({ value: v })); },
        afterFit: s => { s.height = 0; noPadding(s); },
        grid: { drawOnChartArea: false, tickLength: -14, tickColor: axisColor, z: 1 },
        border: { color: axisColor, z: 1, width: 1.5 },
        ticks: { display: false },
    };
}

function mirrorY() {
    return {
        type: 'linear', position: 'right', min: -4000, max: 0,
        afterBuildTicks: s => { s.ticks = depthTicks.map(v => ({ value: v })); },
        afterFit: s => { s.width = 0; noPadding(s); },
        grid: { drawOnChartArea: false, tickLength: -14, tickColor: axisColor, z: 1 },
        border: { color: axisColor, z: 1, width: 1.5 },
        ticks: { display: false },
    };
}

const contourLabels = {
    id: 'contourLabels',
    afterDatasetsDraw(chart) {
        const ctx = chart.ctx;
        ctx.save();
        ctx.font = '15.5px "DejaVu Sans"';
        ctx.fillStyle = '#222';
        ctx.textAlign = 'center';
        ctx.textBaseline = 'middle';
        labelText.forEach((t, i) => {
            ctx.fillText(t, chart.scales.x.getPixelForValue(labelLat[i]), chart.scales.y.getPixelForValue(labelDepth[i]));
        });
        ctx.restore();
    },
};

function sectionChart(id, top, bottom, canvasTop, title, datasets, withLabels) {
    datasets.forEach((d, i) => { d.order = datasets.length - i; });
    return new Chart(document.getElementById(id), {
        type: 'line',
        data: { datasets: datasets },
        plugins: withLabels ? [contourLabels] : [],
        options: {
            responsive: false,
            animation: false,
            events: [],
            layout: { autoPadding: false, padding: { top: top - canvasTop, bottom: 0, left: 0, right: 1610 - 1595 } },
            plugins: { legend: { display: false }, tooltip: { enabled: false } },
            scales: {
                x: {
                    type: 'linear', position: 'bottom', min: 50.166, max: 63.71,
                    afterBuildTicks: s => { s.ticks = xTicks.map(v => ({ value: v })); },
                    afterFit: s => { s.height = 215 - (bottom - canvasTop); noPadding(s); },
                    grid: { drawOnChartArea: false, tickLength: -14, tickColor: axisColor, z: 1 },
                    border: { color: axisColor, z: 1, width: 1.5 },
                    ticks: { padding: 23, color: textColor, font: tickFont, maxRotation: 0, autoSkip: false },
                },
                y: {
                    type: 'linear', position: 'left', min: -4000, max: 0,
                    afterBuildTicks: s => { s.ticks = depthTicks.map(v => ({ value: v })); },
                    afterFit: s => { s.width = 107; noPadding(s); },
                    grid: { drawOnChartArea: false, tickLength: -14, tickColor: axisColor, z: 1 },
                    border: { color: axisColor, z: 1, width: 1.5 },
                    ticks: { padding: 22, color: textColor, font: tickFont, autoSkip: false, callback: v => String(v) },
                    title: { display: true, text: title, color: textColor, font: depthTitleFont, padding: { top: 12, bottom: 0 } },
                },
                xTop: mirrorX('top'),
                yRight: mirrorY(),
            },
        },
    });
}

function colorBar(id, colors, labels, top, bottom, canvasTop) {
    const n = colors.length;
    const datasets = colors.slice().reverse().map(c => ({
        data: [1], backgroundColor: c, borderColor: '#2a2a2a', borderWidth: 1,
        categoryPercentage: 1, barPercentage: 1,
    }));
    return new Chart(document.getElementById(id), {
        type: 'bar',
        data: { labels: [''], datasets: datasets },
        options: {
            responsive: false,
            animation: false,
            events: [],
            layout: { autoPadding: false, padding: { top: top - canvasTop, bottom: 190 - (bottom - canvasTop), left: 24, right: 0 } },
            plugins: { legend: { display: false }, tooltip: { enabled: false } },
            scales: {
                x: { stacked: true, display: false },
                y: {
                    stacked: true, position: 'right', min: 0, max: n,
                    afterFit: s => { s.width = 99; noPadding(s); },
                    afterBuildTicks: s => { s.ticks = labels.map((t, i) => ({ value: n - 1 - i })); },
                    grid: { display: false },
                    border: { display: false },
                    ticks: {
                        autoSkip: false, padding: 6, color: '#1a1a1a',
                        font: { family: 'DejaVu Sans', weight: 'bold', size: 14 },
                        callback: v => labels[n - 1 - v],
                    },
                },
            },
        },
    });
}

sectionChart('panelVel', 15, 180, 0, 'Depth (m)', [
    area(vBase, '#ebebff', 0), area(vPale, '#fff5f3', 3), area(vPink1, '#ffd8d8'), area(vPink2, '#ffc4c4'), area(vPink3, '#ffa8a8'),
    area(vPink4, '#ff9494'), area(vPink5, '#ff7070'), area(vPink6, '#ff4848'), area(vRed, '#ff0000'), line(vLine1), line(vLine2), line(vLine3), line(vLine4), line(vLine5),
    area(vEyeTop, '#ebebff', 3), area(vMid, '#ffd8d8'), area(vWedge, '#ffcccc'), area(vRing, '#fff5f3'), area(vEye, '#ebebff', 3), area(vEyeIn, '#cfcfff'),
    area(vMidA, '#ffc4c4'), area(vMidB, '#ffa0a0'), area(vMidC, '#ff7878'), area(vDarkA, '#000'), area(vDarkB, '#000'), area(vColumn, '#ffd8d8'), area(vBlueW, '#cfcfff', 1.5), area(vDarkD, '#000', 0),
    area(vBlueA, '#cfcfff'), area(vBlueB, '#cfcfff'), area(vPaleB, '#fff5f3', 3), area(vPinkB, '#ffd8d8'), area(vBlueC, '#cfcfff'),
    area(vPaleC, '#fff5f3', 3), area(vPinkC, '#ffd8d8'), area(vPinkD, '#ffc4c4'), area(vPinkE, '#ffd8d8'),
    area(vBlueD, '#cfcfff'), area(vBlueE, '#b0b0ff'), line(vThickH, 3), area(vBlueF, '#cfcfff'), area(vBlueG, '#8888ff'), area(vDarkC, '#000'), area(vRings, '#8888ff'), area(vRings2, '#4040ff'),
    area(vPaleD, '#fff5f3', 3), area(vPaleE, '#fff5f3', 3), area(vPinkF, '#ffd8d8'), area(vBlueH, '#cfcfff'), area(vPaleF, '#ebebff'),
    area(vVortA, '#cfcfff'), area(vVortB, '#b0b0ff'), area(vVortC, '#8888ff'),
    area(vBlueI, '#cfcfff'), area(vBlueJ, '#b0b0ff'), area(vBlueK, '#8888ff'), area(vBlueL, '#cfcfff'), area(vBlueM, '#cfcfff'), area(vBlueN, '#cfcfff'), area(vLoop, '#cfcfff'),
    area(vPaleG, '#fff5f3', 0), line(vPaleGEdge, 3), area(vPinkG, '#ffd0d0'),
].concat(sectionEnd(holesAll)), false);

sectionChart('panelSal', 243, 409, 225, 'Depth (db)', [
    area(sBase, '#7878ff', 0), area(sMid, '#5f5fff'), area(sDeep, '#5f5fff'), area(sLightA, '#8c8cff'), area(sLightC, '#a0a0ff'), area(sLightB, '#a4a4ff'), area(sTongue, '#8080ff'), area(sSmall, '#8c8cff'), area(sOval, '#5f5fff'),
    area(sDeepW, '#4848ff'), area(sDeepE, '#5050ff'), area(sDeepF, '#4040ff'), area(sBand8, '#8c8cff'), area(sStripeA, '#a8a8ff'), area(sUpStripe2, '#a8a8ff'),
    area(sUp8, '#8c8cff'), area(sUpA, '#a8a8ff'), area(sUpStripe, '#d0d0ff'), area(sUpB, '#b0b0ff'), area(sUpC, '#d0d0ff'), area(sWhite, '#fff3f3'), area(sPinkA, '#ffc8c8'), area(sPinkB, '#ffc8c8'),
    area(sTopDark, '#000', 0), area(sTopBlue, '#0000ff', 0), area(sTopBlue2, '#1818ff', 0), area(sTopStripe, '#4848ff', 0), line(sLine1), line(sLine2), line(sLine3), line(sLine4), line(sLine5), line(sLine6),
    line(sStripeB, 1.5), line(sStripeC, 2), line(sStripeD, 1.5), line(sStripeE, 1.5), line(sStripeF, 1.5),
    line(sigma2745, 3), line(sigma2765, 2.5), line(sigma278, 2.5),
].concat(sectionEnd(holesTS), [Object.assign(line(sTopRed, 1.5), { borderColor: '#ff0000' })]), true);

sectionChart('panelDen', 473, 638, 455, 'Depth (db)', [
    area(dBase, '#ff8c8c', 0), area(dBandLow, '#ffb4b4'), area(dPatchMid, '#ff8c8c'), area(dPatchRed, '#ff5050'), area(dBandUp, '#ffb4b4'), area(dWestWhite, '#fff0f0'), area(dWestBlue, '#8888ff', 0), area(dWestDeep, '#1818ff', 0), area(dWestPale, '#b0b0ff', 0), line(dWestA, 2), line(dWestB, 2), line(dWestC, 2),
    area(dTopRed, '#ff5050'), area(dRedA, '#ff2020'), area(dRedB, '#ff2020'), area(dRedC, '#ff5050'), area(dMidLoop, '#ffb4b4'), area(dEastUp, '#ffb4b4'), area(dEastDark, '#ff8c8c'), area(dEastWhiteA, '#fff0f0'), area(dEastWhiteB, '#fff0f0'),
    area(dEastBand, '#ffb4b4'), area(dEastPatch, '#ff8c8c'), area(dEastPale, '#fff0f0'), area(dEastLoop, '#ff8c8c'), area(dTopRed3, '#ff5050'), area(dTopRed2, '#ff5050'), area(dRedD, '#ff2020'), area(dCyclone, '#fff0f0'), area(dCycloneIn, '#b0b0ff'),
    area(dFarPale, '#fff0f0'), area(dFarPink, '#ffb4b4'), area(dFarSpike, '#ffb4b4', 0), area(dFarLeft, '#ffb4b4', 0), area(dOvalA, '#b0b0ff'), area(dOvalB, '#b0b0ff'), area(dLoopA, '#ff8c8c'), area(dLowPatch, '#ffb4b4'),
    line(dStripeA, 1.5), line(dStripeB, 1.5), line(dStripeC, 2), line(dStripeD, 2), line(dStripeE, 1.5),
    line(sigma2745, 3), line(sigma2765, 2.5), line(sigma278, 2.5),
].concat(sectionEnd(holesTS)), true);

colorBar('barVel', velColors, velLabels, 19, 177, 5);
colorBar('barSal', salColors, salLabels, 250, 407, 235);
colorBar('barDen', denColors, denLabels, 481, 637, 465);

// transport panel has no box, only bottom and left axes
const transport = transLat.map((x, i) => ({ x: x, y: transSv[i] }));
new Chart(document.getElementById('panelTrans'), {
    type: 'line',
    data: {
        datasets: [
            { data: transport, xAxisID: 'x', yAxisID: 'y', borderColor: '#000', borderWidth: 1.5, pointRadius: 0, tension: 0, order: 2 },
            { data: [{ x: 50.166, y: 0 }, { x: 63.71, y: 0 }], xAxisID: 'x', yAxisID: 'y', borderColor: '#999', borderWidth: 1.5, borderDash: [17, 11], pointRadius: 0, order: 3 },
            { data: [{ x: 63.71, y: 0 }], xAxisID: 'x', yAxisID: 'y', showLine: false, pointRadius: 3, backgroundColor: '#ff0000', borderColor: '#ff0000', clip: false, order: 1 },
        ],
    },
    options: {
        responsive: false,
        animation: false,
        events: [],
        layout: { autoPadding: false, padding: { top: 0, bottom: 0, left: 35, right: 1610 - 1595 } },
        plugins: {
            legend: { display: false },
            tooltip: { enabled: false },
            title: { display: true, position: 'left', text: 'Cumulated transport (Sv)', color: textColor, font: bigTitleFont, padding: 0 },
        },
        scales: {
            // only pushes the plot area down to where the curve starts
            xGap: {
                type: 'linear', position: 'top', min: 0, max: 1,
                afterFit: s => { s.height = 703 - 655; noPadding(s); },
                grid: { display: false }, border: { display: false }, ticks: { display: false },
            },
            x: {
                type: 'linear', position: 'bottom', min: 50.166, max: 63.71,
                afterBuildTicks: s => { s.ticks = xTicks.map(v => ({ value: v })); },
                afterFit: s => { s.height = 930 - 867; noPadding(s); },
                grid: { drawOnChartArea: false, tickLength: -14, tickColor: axisColor },
                border: { color: axisColor, width: 1.5 },
                ticks: { padding: 16, color: textColor, font: tickFont, maxRotation: 0, autoSkip: false },
                title: { display: true, text: 'Latitude (\u00B0N)', color: textColor, font: bigTitleFont, padding: { top: 0, bottom: 9 } },
            },
            y: {
                type: 'linear', position: 'left', min: -20, max: 24.6,
                afterBuildTicks: s => { s.ticks = transTicks.map(v => ({ value: v })); },
                afterFit: s => { s.width = 107 - 35 - 24.48; noPadding(s); },
                grid: { drawOnChartArea: false, tickLength: -14, tickColor: axisColor },
                border: { color: axisColor, width: 1.5 },
                ticks: { padding: 22, color: textColor, font: tickFont, autoSkip: false },
            },
        },
    },
});
</script>
</body>
</html>
